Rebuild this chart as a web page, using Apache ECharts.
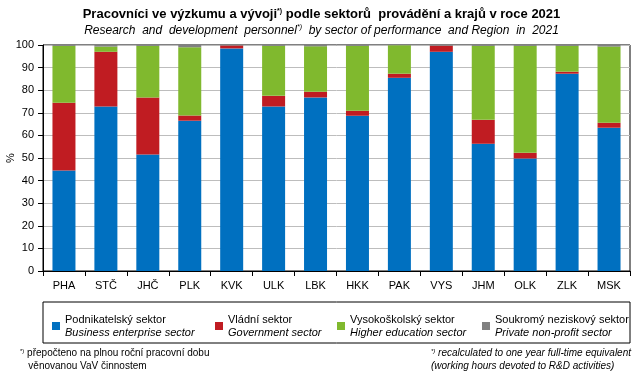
<!DOCTYPE html>
<html>
<head>
<meta charset="utf-8">
<script src="https://cdn.jsdelivr.net/npm/echarts@6/dist/echarts.min.js"></script>
<style>
  html, body { margin: 0; padding: 0; background: #fff; }
  #chart { width: 643px; height: 376px; }
</style>
</head>
<body>
<div id="chart"></div>
<script>
    // regions (kraje)
    var regions = ['PHA', 'STČ', 'JHČ', 'PLK', 'KVK', 'ULK', 'LBK', 'HKK', 'PAK', 'VYS', 'JHM', 'OLK', 'ZLK', 'MSK'];
    // shares in %
    var business   = [44.5, 72.8, 51.6, 66.5, 98.5, 72.8, 76.8, 68.7, 85.5, 97.0, 56.3, 49.8, 87.3, 63.4];
    var government = [29.9, 24.2, 25.2, 2.3, 1.3, 4.7, 2.5, 2.2, 1.8, 2.7, 10.6, 2.5, 0.9, 2.2];
    var higherEdu  = [25.2, 2.3, 22.8, 30.2, 0.0, 22.1, 20.1, 28.7, 12.6, 0.0, 32.7, 47.3, 11.4, 33.7];
    var nonProfit  = [0.4, 0.7, 0.4, 1.0, 0.2, 0.4, 0.6, 0.4, 0.1, 0.3, 0.4, 0.4, 0.4, 0.7];

    var sectors = [
        { name: 'Podnikatelský sektor', en: 'Business enterprise sector', data: business, color: '#0070c0' },
        { name: 'Vládní sektor', en: 'Government sector', data: government, color: '#c01c22' },
        { name: 'Vysokoškolský sektor', en: 'Higher education sector', data: higherEdu, color: '#80b92e' },
        { name: 'Soukromý neziskový sektor', en: 'Private non-profit sector', data: nonProfit, color: '#808080' }
    ];
    var legendLeft = [47, 210, 332, 477];

    var font = 'Arial, "Liberation Sans", sans-serif';
    var dom = echarts.init(document.getElementById('chart'));

    var option = {
        animation: false,
        textStyle: { fontFamily: font },
        title: {
            text: 'Pracovníci ve výzkumu a vývoji{s|*)} podle sektorů  provádění a krajů v roce 2021',
            subtext: 'Research  and  development  personnel{s|*)}  by sector of performance  and Region  in  2021',
            left: 'center',
            top: 3,
            itemGap: 3,
            textStyle: {
                fontFamily: font, fontSize: 13, fontWeight: 'bold', color: '#000',
                rich: { s: { fontSize: 7, verticalAlign: 'top', fontWeight: 'bold', padding: [0, 0, 6, 0] } }
            },
            subtextStyle: {
                fontFamily: font, fontSize: 12, fontStyle: 'italic', color: '#000',
                rich: { s: { fontSize: 7, fontStyle: 'italic', padding: [0, 0, 6, 0] } }
            }
        },
        grid: {
            left: 43, right: 13, top: 45, bottom: 105,
            outerBoundsMode: 'none',
            containLabel: false,
            show: true, borderColor: '#000', borderWidth: 1
        },
        legend: sectors.map(function (s, i) {
            return {
                data: [s.name],
                left: legendLeft[i],
                top: 309,
                icon: 'rect',
                itemWidth: 8,
                itemHeight: 8,
                itemGap: 0,
                selectedMode: false,
                formatter: function (n) { return '{a|' + n + '}\n{b|' + s.en + '}'; },
                textStyle: {
                    fontFamily: font, color: '#000',
                    rich: {
                        a: { fontSize: 11, lineHeight: 13, fontFamily: font },
                        b: { fontSize: 11, lineHeight: 13, fontStyle: 'italic', fontFamily: font }
                    }
                }
            };
        }),
        xAxis: {
            type: 'category',
            data: regions,
            axisLine: { lineStyle: { color: '#000' } },
            axisTick: { show: true, lineStyle: { color: '#000' }, length: 5 },
            axisLabel: { color: '#000', fontSize: 11, margin: 9 }
        },
        yAxis: {
            type: 'value',
            min: 0, max: 100, interval: 10,
            name: '%',
            nameLocation: 'middle',
            nameGap: 27,
            nameRotate: 90,
            nameMoveOverlap: false,
            nameTextStyle: { color: '#000', fontSize: 11 },
            axisLine: { show: true, lineStyle: { color: '#000' } },
            axisTick: { show: true, lineStyle: { color: '#000' }, length: 5 },
            axisLabel: { color: '#000', fontSize: 11, margin: 9 },
            splitLine: { lineStyle: { color: '#bdbdbd' } }
        },
        series: sectors.map(function (s) {
            return {
                name: s.name,
                type: 'bar',
                stack: 'total',
                data: s.data,
                barWidth: 23,
                itemStyle: { color: s.color }
            };
        }),
        graphic: [
            {
                type: 'rect',
                shape: { x: 43, y: 302, width: 587, height: 41 },
                style: { fill: 'none', stroke: '#000', lineWidth: 1 },
                silent: true
            },
            {
                type: 'text',
                left: 20, top: 347,
                style: {
                    text: '{s|*)} přepočteno na plnou roční pracovní dobu\n   věnovanou VaV činnostem',
                    font: '10px ' + font, fill: '#000', lineHeight: 13,
                    rich: { s: { fontSize: 6, padding: [0, 0, 5, 0] } }
                }
            },
            {
                type: 'text',
                right: 12, top: 347,
                style: {
                    text: '{s|*)} recalculated to one year full-time equivalent\n(working hours devoted to R&D activities)',
                    font: 'italic 10px ' + font, fill: '#000', lineHeight: 13, align: 'center',
                    rich: { s: { fontSize: 6, fontStyle: 'italic', padding: [0, 0, 5, 0] } }
                }
            }
        ]
    };

    dom.setOption(option);
    window.addEventListener('resize', function () { dom.resize(); });
</script>
</body>
</html>
